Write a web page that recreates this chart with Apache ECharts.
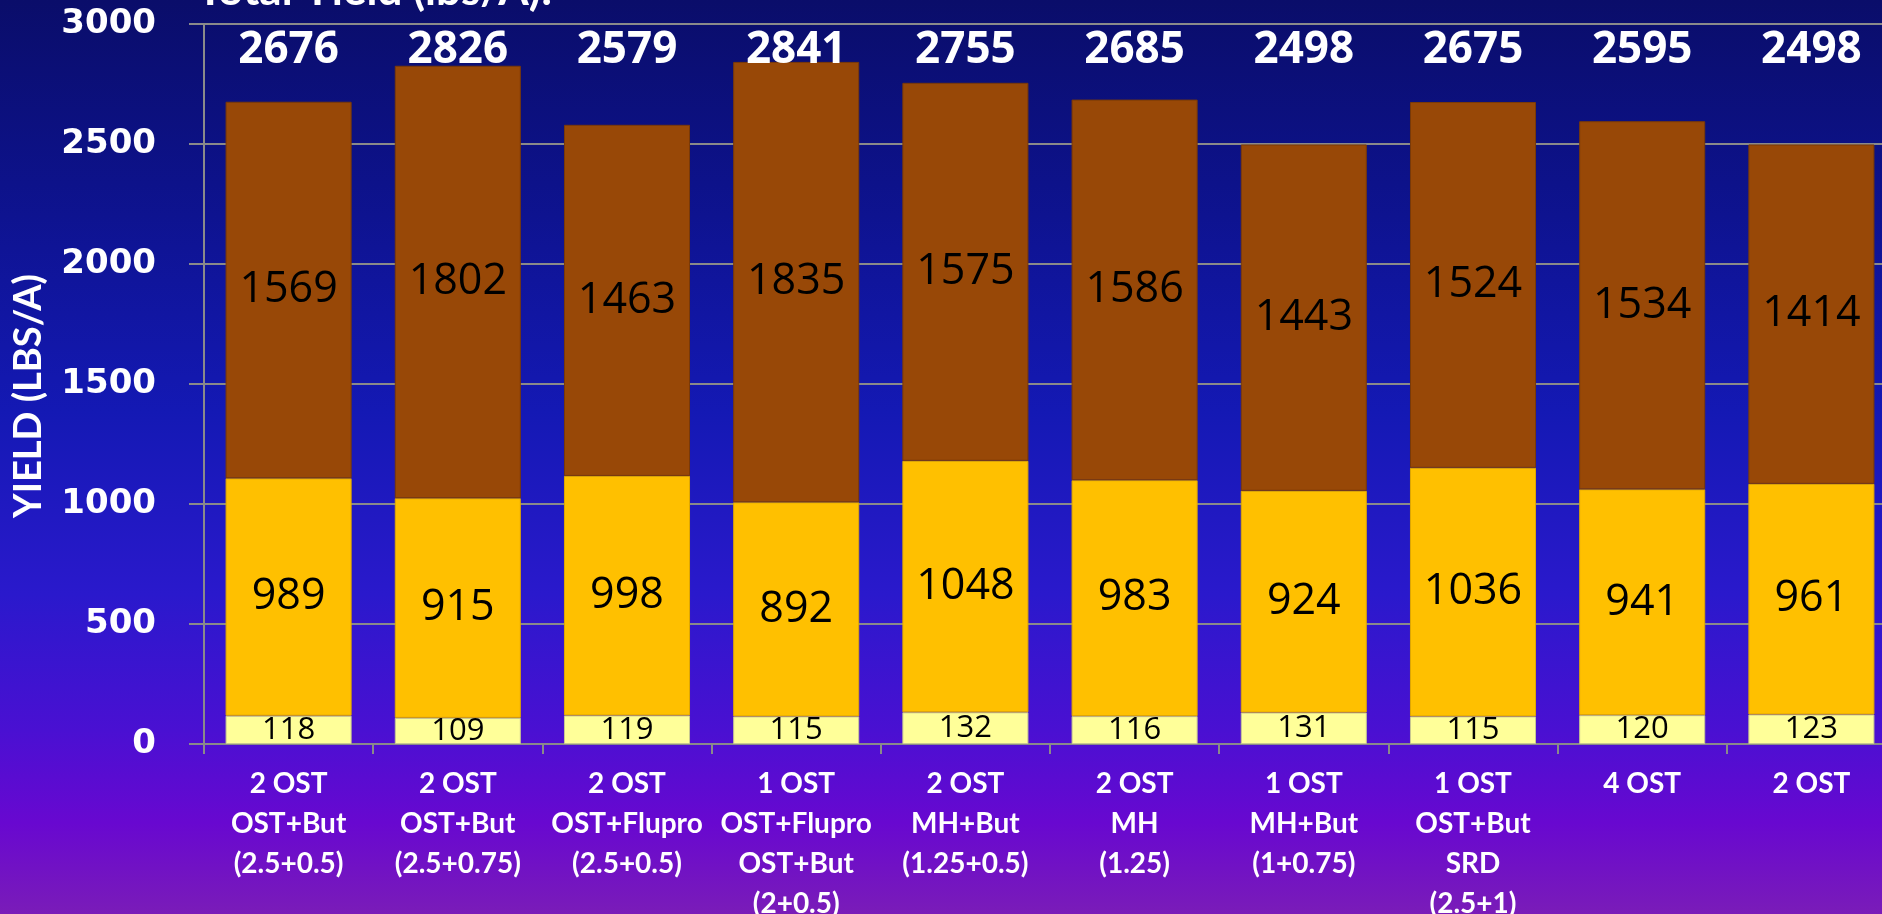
<!DOCTYPE html>
<html>
<head>
<meta charset="utf-8">
<script src="https://cdn.jsdelivr.net/npm/echarts@6/dist/echarts.min.js"></script>
<style>
  html, body { margin: 0; padding: 0; }
  #main {
    width: 1882px; height: 914px;
    background: linear-gradient(to bottom, #0a0d6a 0%, #0d128a 20%, #1419b4 45%, #2a19cc 65%, #4a10d2 80%, #6808d0 90%, #7a1cb8 100%);
  }
</style>
</head>
<body>
<div id="main"></div>
<script>
let categories = [
  '2 OST\nOST+But\n(2.5+0.5)',
  '2 OST\nOST+But\n(2.5+0.75)',
  '2 OST\nOST+Flupro\n(2.5+0.5)',
  '1 OST\nOST+Flupro\nOST+But\n(2+0.5)',
  '2 OST\nMH+But\n(1.25+0.5)',
  '2 OST\nMH\n(1.25)',
  '1 OST\nMH+But\n(1+0.75)',
  '1 OST\nOST+But\nSRD\n(2.5+1)',
  '4 OST',
  '2 OST'
];
let bottomVals = [118, 109, 119, 115, 132, 116, 131, 115, 120, 123];
let middleVals = [989, 915, 998, 892, 1048, 983, 924, 1036, 941, 961];
let topVals = [1569, 1802, 1463, 1835, 1575, 1586, 1443, 1524, 1534, 1414];
let totals = [2676, 2826, 2579, 2841, 2755, 2685, 2498, 2675, 2595, 2498];
let yTicks = [0, 500, 1000, 1500, 2000, 2500, 3000];

let chartDom = document.getElementById('main');
let myChart = echarts.init(chartDom);
let option;

let numFont = '"Open Sans", "Noto Sans", sans-serif';
let textFont = 'Lato, "Open Sans", sans-serif';

option = {
  backgroundColor: 'transparent',
  animation: false,
  title: {
    text: 'Total Yield (lbs/A):',
    left: 192,
    top: -36,
    textStyle: {
      color: '#fff',
      fontSize: 44,
      fontWeight: 'bold',
      fontFamily: textFont
    }
  },
  grid: {
    left: 204,
    right: -14,
    top: 24,
    bottom: 170,
    containLabel: false,
    outerBoundsMode: 'none'
  },
  xAxis: {
    type: 'category',
    data: categories,
    axisLine: { lineStyle: { color: '#8a8a8a', width: 2 } },
    axisTick: { show: true, length: 10, lineStyle: { color: '#8a8a8a', width: 2 } },
    axisLabel: {
      color: '#fff',
      fontSize: 28,
      fontWeight: 'bold',
      fontFamily: textFont,
      lineHeight: 40,
      margin: 20,
      interval: 0
    }
  },
  yAxis: {
    type: 'value',
    min: yTicks[0],
    max: yTicks[yTicks.length - 1],
    interval: 500,
    name: 'YIELD (LBS/A)',
    nameLocation: 'middle',
    nameGap: 156,
    nameRotate: 90,
    nameTextStyle: {
      color: '#fff',
      fontSize: 38,
      fontWeight: 'bold',
      fontFamily: textFont,
      padding: [0, 24, 0, 0]
    },
    axisLine: { show: true, lineStyle: { color: '#8a8a8a', width: 2 } },
    axisTick: { show: true, length: 15, lineStyle: { color: '#8a8a8a', width: 2 } },
    splitLine: { lineStyle: { color: '#8a8a8a', width: 2 } },
    axisLabel: {
      color: '#fff',
      fontSize: 34,
      fontWeight: 'bold',
      fontFamily: '"DejaVu Sans", Verdana, sans-serif',
      margin: 48,
      formatter: function (v) { return String(v); }
    }
  },
  series: [
    {
      name: 'bottom',
      type: 'bar',
      stack: 'yield',
      data: bottomVals,
      barCategoryGap: '25.5%',
      itemStyle: { color: '#ffff99', borderColor: '#c8c890', borderWidth: 1 },
      label: {
        show: true,
        position: 'inside',
        color: '#000',
        fontSize: 31,
        fontFamily: numFont
      }
    },
    {
      name: 'middle',
      type: 'bar',
      stack: 'yield',
      data: middleVals,
      itemStyle: { color: '#ffc000', borderColor: '#e0a800', borderWidth: 1 },
      label: {
        show: true,
        position: 'inside',
        color: '#000',
        fontSize: 43,
        fontFamily: numFont
      }
    },
    {
      name: 'top',
      type: 'bar',
      stack: 'yield',
      data: topVals,
      itemStyle: { color: '#984807', borderColor: '#7a3a08', borderWidth: 1 },
      label: {
        show: true,
        position: 'inside',
        color: '#000',
        fontSize: 43,
        fontFamily: numFont
      }
    },
    {
      name: 'total',
      type: 'scatter',
      data: totals,
      symbolSize: 0,
      itemStyle: { opacity: 1 },
      label: {
        show: true,
        color: '#ffffff',
        fontSize: 44,
        fontWeight: 'bold',
        fontFamily: numFont,
        formatter: function (p) { return p.value; }
      },
      labelLayout: function () {
        return { y: 50, verticalAlign: 'middle', align: 'center' };
      }
    }
  ]
};

option && myChart.setOption(option);
</script>
</body>
</html>
